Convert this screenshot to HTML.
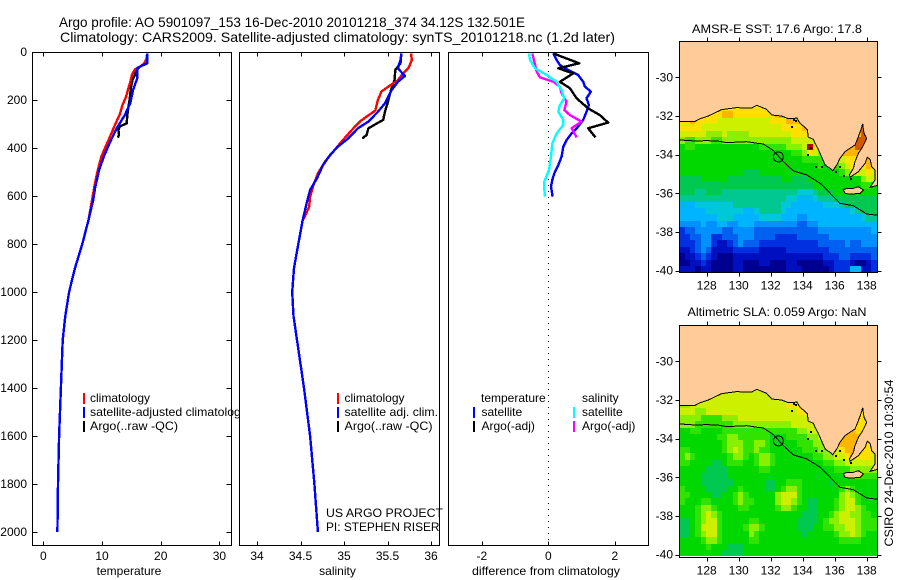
<!DOCTYPE html>
<html>
<head>
<meta charset="utf-8">
<title>Argo profile</title>
<style>
html,body{margin:0;padding:0;background:#fff;}
svg{display:block;font-family:"Liberation Sans",sans-serif;font-size:12px;}
</style>
</head>
<body>
<svg id="fig" xmlns="http://www.w3.org/2000/svg" width="900" height="580" viewBox="0 0 900 580">
<rect x="0" y="0" width="900" height="580" fill="#fff"/>
<text x="59" y="27" font-size="14" textLength="466" lengthAdjust="spacingAndGlyphs">Argo profile: AO 5901097_153 16-Dec-2010 20101218_374 34.12S 132.501E</text>
<text x="60" y="42" font-size="14" textLength="555" lengthAdjust="spacingAndGlyphs">Climatology: CARS2009. Satellite-adjusted climatology: synTS_20101218.nc (1.2d later)</text>
<g id="panels"></g>
<g id="maps"></g>
<text x="777" y="33" text-anchor="middle" textLength="170" lengthAdjust="spacingAndGlyphs">AMSR-E SST: 17.6 Argo: 17.8</text>
<text x="777" y="316" text-anchor="middle" textLength="179" lengthAdjust="spacingAndGlyphs">Altimetric SLA: 0.059 Argo: NaN</text>
<text transform="translate(893,463) rotate(-90)" text-anchor="middle" textLength="167" lengthAdjust="spacingAndGlyphs">CSIRO 24-Dec-2010 10:30:54</text>
</svg>
<script>
// ---------- Profile data ----------
const depthTicks = [0,200,400,600,800,1000,1200,1400,1600,1800,2000];
const tempTicks = [0,10,20,30];
const salTicks = [34,34.5,35,35.5,36];
const diffTicks = [-2,0,2];

const deepDepth = [700,800,900,1000,1100,1200,1300,1400,1600,1800,2000];
const deepTemp = [7.7,6.65,5.4,4.4,3.75,3.3,3.15,3.0,2.7,2.5,2.4];
const deepSal = [34.525,34.475,34.425,34.405,34.42,34.46,34.50,34.54,34.61,34.66,34.70];

const tempClimDepth = [6,26,47,61,72,96,117,151,186,221,262,304,339,367,401,436,471,512,547,603];
const tempClim = [17.7,17.6,17.2,16.5,15.6,15.1,14.9,14.5,14.1,13.5,13,12.2,11.6,11.1,10.5,9.9,9.5,9.1,8.8,8.4];
const tempSatDepth = [6,47,54,68,110,158,214,262,318,374,436,492,568,617];
const tempSat = [17.7,17.7,17.0,16.0,16.0,15.3,14.8,13.9,12.5,11.4,10.3,9.5,8.8,8.5];
const tempArgoDepth = [6,47,61,75,96,117,151,200,228,269,297,311,325,346,357];
const tempArgo = [17.7,17.7,16.5,15.9,15.6,15.2,14.9,14.7,14.5,14.3,14.2,13.0,12.8,12.9,12.7];

const salClimDepth = [6,33,68,89,117,144,165,200,244,269,290,325,374,422,457,506,554,603,644,686];
const salClim = [35.77,35.78,35.74,35.68,35.62,35.51,35.43,35.39,35.36,35.26,35.18,35.09,34.97,34.86,34.78,34.70,34.65,34.61,34.60,34.55];
const salSatDepth = [6,33,68,100,124,158,214,249,290,318,360,394,429,471,526,575,631,693];
const salSat = [35.66,35.65,35.62,35.70,35.62,35.55,35.47,35.39,35.28,35.16,35.05,34.93,34.84,34.76,34.69,34.61,34.57,34.53];
const salArgoDepth = [6,47,75,117,158,214,249,283,297,318,346,360];
const salArgo = [35.66,35.65,35.59,35.58,35.54,35.50,35.47,35.45,35.38,35.28,35.26,35.21];

const diffTSatDepth = [6,33,54,75,96,124,144,165,193,221,249,283,311,339,367,394,436,471,499,533,561,603];
const diffTSat = [0.15,0.25,0.35,0.6,0.9,1.05,1.1,1.28,1.15,1.22,1.15,1.05,0.9,0.7,0.55,0.45,0.4,0.3,0.2,0.12,0.08,0.13];
const diffTArgoDepth = [6,19,47,68,89,124,151,193,235,263,294,318,356];
const diffTArgo = [0.15,0.4,0.93,0.3,0.75,0.35,0.65,0.85,1.2,1.55,1.8,1.2,1.42];
const diffSSatDepth = [6,33,68,96,124,158,193,221,249,283,304,339,381,436,492,540,561,603];
const diffSSat = [-0.58,-0.55,-0.40,-0.05,0.25,0.40,0.48,0.35,0.30,0.45,0.45,0.25,0.12,0.08,0.02,-0.12,-0.13,-0.10];
const diffSArgoDepth = [6,40,82,106,124,144,172,207,242,263,290,318,356];
const diffSArgo = [-0.48,-0.42,-0.35,-0.25,0.15,0.35,0.40,0.55,0.48,0.65,1.0,0.70,0.85];

// ---------- Map data ----------
const lonTicks = [128,130,132,134,136,138];
const latTicks = [-30,-32,-34,-36,-38,-40];
const coastLon = [126.29,127.27,127.58,128.10,128.63,128.94,129.88,130.5,130.81,131.13,131.44,131.75,132.06,132.69,133.10,133.38,133.63,133.83,134.15,134.29,134.35,134.67,134.77,134.94,135.13,135.40,135.71,135.88,136.13,136.33,136.65,137.27,137.48,137.63,137.75,137.83,138,137.75,137.48,137.27,137.17,136.92,136.96,137.48,137.90,138.04,138.21,138.31,138.52,138.52,138.21,138.67,138.67,126.29];
const coastLat = [-32.28,-32.28,-32.14,-32.0,-31.79,-31.67,-31.57,-31.60,-31.59,-31.45,-31.55,-31.66,-31.95,-32.0,-32.14,-32.14,-32.10,-32.38,-32.59,-32.72,-33.10,-33.21,-33.41,-33.67,-34.02,-34.53,-34.71,-34.83,-34.53,-34.19,-33.84,-33.5,-33.07,-32.72,-32.41,-32.9,-33.16,-33.59,-33.93,-34.36,-34.71,-35.05,-35.17,-34.88,-34.45,-34.14,-34.24,-34.62,-34.79,-35.31,-35.69,-35.59,-28.14,-28.14];
const islandLon = [136.54,136.75,137.17,137.48,137.79,137.58,136.96,136.65];
const islandLat = [-35.83,-35.74,-35.74,-35.66,-35.83,-36,-36.05,-36];
const contourLon = [126.29,127.17,128,128.63,129.25,130.5,131.13,131.54,132.17,132.79,133.42,134.25,135.08,135.71,136.33,137.17,138,138.67];
const contourLat = [-33.24,-33.29,-33.28,-33.29,-33.38,-33.33,-33.41,-33.45,-33.79,-34.36,-34.84,-35.05,-35.48,-36,-36.52,-36.64,-37.07,-37.14];
const speckLon = [133.27,133.54,133.42,134.25,134.46,134.77,135.13,136.02,136.29,136.54,136.96];
const speckLat = [-32.52,-32.21,-32.14,-33.98,-33.62,-34.59,-34.59,-34.83,-34.59,-35.05,-35.22];
const floatLon = 132.48;
const floatLat = -34.12;

// Colour class per grid cell, one row per 1/3 degree of latitude
const sstGrid = [
[13,13,13,13,13,13,13,13,13,13,13,13,13,13,13,13,13,13,13,13,13,13,13,13,13,13,13,13,13,13,13,13,13,13,13,13,13],
[13,13,13,13,13,13,13,13,14,14,13,13,13,13,13,13,13,13,14,14,14,14,14,14,14,14,14,14,14,14,14,14,14,14,14,14,14],
[13,13,14,13,13,13,13,12,12,12,12,12,12,12,12,12,12,13,13,13,14,14,14,14,14,14,14,14,14,14,14,14,14,14,14,14,14],
[13,13,13,13,12,12,12,12,12,12,12,12,12,12,12,12,12,12,12,13,13,13,13,14,14,14,14,14,14,14,14,14,14,14,15,15,14],
[12,12,12,12,12,11,11,11,12,11,11,11,11,12,12,12,12,12,12,12,12,13,13,13,13,13,13,13,13,13,13,13,13,14,15,15,14],
[11,10,10,11,11,11,10,10,11,11,11,11,11,11,11,11,11,11,11,11,11,12,12,12,12,12,12,12,12,12,13,13,14,15,15,15,14],
[9,10,10,9,9,9,9,9,9,9,9,9,9,9,9,10,10,10,10,10,11,11,11,12,16,13,12,12,12,12,13,14,14,15,15,14,14],
[9,9,9,9,9,9,9,9,9,9,9,9,9,9,9,9,9,9,9,9,9,10,10,11,13,12,11,12,12,13,14,14,14,14,14,14,14],
[9,9,9,9,9,9,9,9,9,9,9,9,9,9,9,9,9,9,9,9,9,9,9,10,10,10,10,10,10,11,12,13,13,13,13,14,14],
[9,9,9,9,9,9,9,9,9,9,9,9,9,9,9,9,9,9,9,9,9,9,9,9,9,9,10,9,10,10,11,12,13,13,13,14,13],
[9,9,9,9,9,9,9,9,9,9,9,9,8,8,8,9,9,9,9,9,9,9,9,9,9,9,9,9,9,9,10,11,12,12,12,13,12],
[8,8,8,8,9,9,9,9,9,8,8,8,8,8,8,8,8,8,8,9,9,8,8,8,9,9,9,9,9,9,9,9,9,9,11,12,12],
[8,8,8,8,8,8,8,8,8,8,8,8,8,8,8,8,8,8,8,8,8,8,8,8,8,9,9,9,9,9,9,9,9,9,10,10,9],
[8,8,8,7,7,8,8,8,7,7,7,7,7,7,7,7,7,7,7,7,7,7,6,6,6,7,8,8,8,9,9,9,9,9,9,9,9],
[7,7,7,7,7,7,7,7,7,7,7,7,7,7,7,7,7,7,7,7,6,6,5,5,5,6,7,7,7,8,8,8,8,8,8,8,8],
[5,5,5,6,6,6,6,6,6,6,7,7,7,7,7,7,7,7,7,6,6,5,5,5,5,5,5,6,6,6,7,8,8,8,8,8,8],
[5,5,5,5,5,6,6,6,6,6,6,6,5,5,6,7,7,7,7,6,5,5,5,5,5,5,5,5,5,5,5,5,6,7,8,8,8],
[5,5,5,5,5,5,5,6,6,6,5,5,5,5,5,6,6,6,6,5,5,5,4,4,5,5,5,5,5,5,5,5,5,5,6,7,7],
[4,4,4,4,5,4,4,5,5,4,4,5,5,5,4,4,4,4,4,4,4,4,3,3,4,4,5,5,5,5,5,5,5,5,5,5,5],
[2,3,3,4,4,4,4,4,3,3,4,4,4,4,3,3,3,3,3,3,3,3,3,3,3,3,4,4,4,4,4,4,4,4,4,4,5],
[2,2,3,3,4,4,2,2,3,3,3,4,4,4,3,3,3,3,2,2,2,2,3,3,3,3,3,3,4,4,4,4,4,4,4,4,4],
[2,2,2,3,4,4,2,1,1,2,3,4,3,3,3,2,2,2,2,2,2,2,2,2,2,2,3,3,3,3,3,4,3,3,4,4,4],
[1,1,2,3,4,3,1,1,1,1,2,2,2,2,2,1,1,1,1,1,2,2,2,2,2,2,2,2,3,3,3,3,3,3,3,3,3],
[0,1,1,2,3,2,1,0,0,0,1,1,1,1,1,1,1,1,1,1,1,1,1,1,1,1,1,2,2,2,3,3,2,2,2,2,3],
[0,0,1,1,2,1,0,0,0,0,1,1,0,0,0,1,1,0,0,0,1,1,0,0,0,0,0,1,1,2,2,2,1,0,0,1,2],
[1,1,1,0,1,1,0,0,0,0,1,1,0,0,0,0,0,0,0,0,1,1,1,0,0,0,0,0,1,2,2,2,5,5,1,1,2]
];
const slaGrid = [
[12,12,12,12,12,12,12,12,12,12,12,12,12,12,12,12,12,12,12,12,12,12,12,12,12,12,12,12,12,12,12,12,12,12,12,12,12],
[12,12,12,12,12,12,12,12,12,12,12,12,12,12,12,12,12,12,12,12,13,13,13,13,13,13,13,13,13,13,13,13,13,13,13,13,13],
[11,11,12,12,12,12,12,12,12,12,12,12,12,12,12,12,12,12,12,12,13,13,13,13,13,13,13,13,13,13,13,13,13,13,13,13,13],
[12,12,12,11,11,12,12,12,12,12,12,12,12,12,12,12,12,12,12,12,12,12,13,13,13,13,13,13,13,13,13,13,13,13,13,13,13],
[11,11,11,11,10,10,10,10,11,11,11,12,12,12,12,12,12,12,12,12,12,12,12,12,13,13,13,13,13,13,13,13,13,13,13,13,13],
[11,11,11,10,10,10,10,10,10,10,11,11,11,11,11,11,11,11,11,11,11,12,12,12,12,12,12,13,13,13,13,13,13,13,13,13,13],
[9,9,10,10,9,9,9,9,10,10,10,10,10,10,10,10,10,10,10,10,10,10,11,11,12,12,12,12,12,13,13,14,14,13,13,13,13],
[9,9,9,9,9,9,9,10,10,11,11,10,10,10,10,10,10,9,9,9,10,10,10,10,11,11,12,12,12,13,14,14,14,14,13,13,13],
[9,9,9,9,9,9,9,9,10,11,11,11,10,10,11,11,10,9,9,9,9,9,10,10,10,11,11,12,12,13,14,14,14,14,14,13,13],
[10,10,9,9,9,9,9,9,10,11,12,11,10,10,11,10,10,9,9,9,9,9,9,10,10,10,11,11,12,12,13,14,14,14,13,13,13],
[10,11,10,9,9,9,9,9,9,10,11,11,10,9,10,11,11,10,9,9,9,9,9,9,9,10,10,11,11,12,12,13,14,13,13,13,12],
[10,10,9,9,9,9,8,8,9,10,10,10,9,9,10,11,11,10,9,9,9,9,9,9,9,9,9,10,10,11,11,12,12,12,12,12,12],
[9,9,9,9,9,8,8,8,8,9,9,9,9,9,9,10,10,9,9,9,9,9,9,9,9,9,9,9,9,10,10,10,11,11,11,11,11],
[9,9,9,9,8,8,8,8,8,9,9,9,9,9,9,9,9,9,9,9,9,9,9,9,9,9,9,9,9,9,9,9,10,10,10,10,10],
[9,9,9,9,8,8,8,8,8,8,9,9,9,9,9,9,8,8,9,9,10,10,10,9,9,9,9,9,8,9,9,9,9,9,9,9,9],
[10,9,9,9,9,8,8,8,8,9,9,10,9,9,9,9,8,8,9,10,11,11,10,9,9,9,9,9,9,9,10,11,10,9,9,9,9],
[10,10,9,9,9,9,8,8,9,9,10,11,10,9,9,9,9,9,11,12,12,12,10,9,9,9,9,9,9,9,11,12,11,10,9,9,9],
[10,9,9,9,10,10,9,9,9,9,10,11,10,10,9,9,9,9,11,12,12,11,10,9,8,8,9,9,9,10,11,12,12,10,9,9,9],
[9,9,9,10,11,11,10,9,9,9,9,10,10,9,9,9,9,9,10,11,11,10,9,9,8,8,9,9,9,10,11,12,12,11,10,9,9],
[9,9,9,10,11,12,11,10,9,9,9,9,9,9,9,9,9,9,9,9,9,9,9,8,8,8,9,9,10,11,12,12,11,11,10,10,9],
[8,8,9,10,11,12,12,10,9,9,9,9,9,10,10,9,9,9,9,9,9,9,8,8,8,8,9,10,11,11,12,12,12,11,10,10,10],
[8,8,9,10,12,12,12,10,9,9,9,9,10,11,11,10,9,9,9,9,9,9,8,8,8,9,9,10,10,11,11,12,12,11,10,10,10],
[8,8,9,10,11,12,12,10,9,9,9,9,9,11,10,9,9,9,9,9,9,9,9,8,9,9,9,9,9,10,11,11,12,11,10,9,9],
[9,9,9,9,10,11,11,10,9,9,9,9,9,10,10,9,9,9,9,9,9,9,9,9,9,9,9,9,9,9,10,10,10,10,9,9,9],
[9,9,9,9,9,10,9,9,9,8,8,8,9,9,9,9,9,9,9,9,9,9,9,9,9,9,9,9,9,9,9,9,9,9,9,9,9],
[9,9,9,9,9,9,9,9,8,8,8,8,9,9,9,9,9,9,9,9,9,9,9,9,9,9,9,9,9,9,9,9,9,9,9,9,9]
];
const colourClasses = ['#000090','#0010c0','#0030e0','#0060f0','#0090ff','#00b4ff','#00c8d8','#00c890','#00c850','#00d800','#30e400','#88f000','#ccf000','#ffe000','#ffb400','#d45800','#b80000'];

// ---------- Drawing ----------
const NS = 'http://www.w3.org/2000/svg';
const panelsEl = document.getElementById('panels');
const mapsEl = document.getElementById('maps');

function make(parent, tag, attrs, text) {
  const el = document.createElementNS(NS, tag);
  for (const k in attrs) el.setAttribute(k, attrs[k]);
  if (text !== undefined) el.textContent = text;
  parent.appendChild(el);
  return el;
}

const depthScale = d => 52 + d * 0.24;
const tempScale = v => 43.3 + v * 5.87;
const salScale = v => 257 + (v - 34) * 87;
const diffScale = v => 548.3 + v * 33.25;

function drawFrame(left, right, xScale, xTicks, showDepth, key) {
  const top = 52.5, bottom = 545.5;
  const bg = make(panelsEl, 'rect', {x: left, y: top, width: right - left, height: bottom - top, fill: '#fff'});
  
  
  const frame = make(panelsEl, 'path', {d: `M${left} ${top}H${right}V${bottom}H${left}Z`, fill: 'none', stroke: '#000', 'stroke-width': 1, 'shape-rendering': 'crispEdges'});
  
  
  xTicks.forEach(t => {
    const x = Math.round(xScale(t)) + 0.5;
    const tick = make(panelsEl, 'path', {d: `M${x} ${top}v4M${x} ${bottom}v-4`, stroke: '#000', 'stroke-width': 1, fill: 'none', 'shape-rendering': 'crispEdges'});
    
    
    const label = make(panelsEl, 'text', {x: xScale(t), y: 560, 'text-anchor': 'middle'}, String(t));
    
    
  });
  if (showDepth) {
    depthTicks.forEach(t => {
      const y = Math.round(depthScale(t)) + 0.5;
      const tick = make(panelsEl, 'path', {d: `M${left} ${y}h5M${right} ${y}h-5`, stroke: '#000', 'stroke-width': 1, fill: 'none', 'shape-rendering': 'crispEdges'});
      
      
      const label = make(panelsEl, 'text', {x: 27, y: depthScale(t) + 4, 'text-anchor': 'end'}, String(t));
      
      
    });
  }
}

function drawLine(xScale, depths, values, color, key) {
  const pts = depths.map((d, i) => xScale(values[i]).toFixed(1) + ',' + depthScale(d).toFixed(1)).join(' ');
  const line = make(panelsEl, 'polyline', {points: pts, fill: 'none', stroke: color, 'stroke-width': 2.4, 'stroke-linejoin': 'round', 'shape-rendering': 'crispEdges'});
  
  
}

function drawLegend(markerX, textX, y, color, label, key, width) {
  if (color) {
    const mark = make(panelsEl, 'rect', {x: markerX, y: y - 5, width: 2, height: 11, fill: color, 'shape-rendering': 'crispEdges'});
    
    
  }
  const text = make(panelsEl, 'text', {x: textX, y: y + 4}, label);
  if (width) {
    text.setAttribute('textLength', width);
    text.setAttribute('lengthAdjust', 'spacingAndGlyphs');
  }
  
  
}

function drawNote(x, y, label, anchor, key, width) {
  const text = make(panelsEl, 'text', {x: x, y: y, 'text-anchor': anchor}, label);
  if (width) {
    text.setAttribute('textLength', width);
    text.setAttribute('lengthAdjust', 'spacingAndGlyphs');
  }
  
  
}

// Temperature panel
drawFrame(32.5, 231.5, tempScale, tempTicks, true, 'temperature');
drawLine(tempScale, tempArgoDepth, tempArgo, '#000', 'temperature-argo-line');
drawLine(tempScale, tempClimDepth.concat(deepDepth), tempClim.concat(deepTemp), '#f00', 'temperature-climatology-line');
drawLine(tempScale, tempSatDepth.concat(deepDepth), tempSat.concat(deepTemp), '#00f', 'temperature-satellite-line');
drawLegend(83, 90, 398, '#f00', 'climatology', 'temperature-climatology');
drawLegend(83, 90, 412, '#00f', 'satellite-adjusted climatology', 'temperature-satellite', 157);
drawLegend(83, 90, 426, '#000', 'Argo(..raw -QC)', 'temperature-argo', 88);
drawNote(129, 575, 'temperature', 'middle', 'temperature-axis-title');

// Salinity panel
drawFrame(239.5, 439.5, salScale, salTicks, false, 'salinity');
drawLine(salScale, salArgoDepth, salArgo, '#000', 'salinity-argo-line');
drawLine(salScale, salClimDepth.concat(deepDepth), salClim.concat(deepSal), '#f00', 'salinity-climatology-line');
drawLine(salScale, salSatDepth.concat(deepDepth), salSat.concat(deepSal), '#00f', 'salinity-satellite-line');
drawLegend(337, 344.5, 398, '#f00', 'climatology', 'salinity-climatology');
drawLegend(337, 344.5, 412, '#00f', 'satellite adj. clim.', 'salinity-satellite', 93.5);
drawLegend(337, 344.5, 426, '#000', 'Argo(..raw -QC)', 'salinity-argo', 88);
drawNote(326, 517, 'US ARGO PROJECT', 'start', 'project-label', 117);
drawNote(326, 531, 'PI: STEPHEN RISER', 'start', 'investigator-label', 113.5);
drawNote(337.5, 575, 'salinity', 'middle', 'salinity-axis-title');

// Difference panel
drawFrame(448.5, 648.5, diffScale, diffTicks, false, 'difference');
const zeroLine = make(panelsEl, 'line', {x1: 548.5, x2: 548.5, y1: 53, y2: 545, stroke: '#000', 'stroke-width': 1, 'stroke-dasharray': '1 5', 'shape-rendering': 'crispEdges'});


drawLine(diffScale, diffTSatDepth, diffTSat, '#00f', 'difference-temperature-satellite-line');
drawLine(diffScale, diffTArgoDepth, diffTArgo, '#000', 'difference-temperature-argo-line');
drawLine(diffScale, diffSArgoDepth, diffSArgo, '#f0f', 'difference-salinity-argo-line');
drawLine(diffScale, diffSSatDepth, diffSSat, '#0ff', 'difference-salinity-satellite-line');
drawLegend(0, 481, 398, null, 'temperature', 'difference-temperature-heading');
drawLegend(473, 481.5, 412, '#00f', 'satellite', 'difference-temperature-satellite');
drawLegend(473, 481.5, 426, '#000', 'Argo(-adj)', 'difference-temperature-argo');
drawLegend(0, 582, 398, null, 'salinity', 'difference-salinity-heading');
drawLegend(573, 582, 412, '#0ff', 'satellite', 'difference-salinity-satellite');
drawLegend(573, 582, 426, '#f0f', 'Argo(-adj)', 'difference-salinity-argo');
drawNote(546, 575, 'difference from climatology', 'middle', 'difference-axis-title', 148);

// Maps
const lonScale = lon => 706.7 + (lon - 128) * 16;
function drawMap(grid, y30, top, bottom, key) {
  const latScale = lat => y30 + (-30 - lat) * 19.33;
  const left = 679.5, right = 877.5;
  const clipId = key + '-clip';
  const defs = make(mapsEl, 'clipPath', {id: clipId});
  make(defs, 'rect', {x: left, y: top, width: right - left, height: bottom - top});
  const body = make(mapsEl, 'g', {'clip-path': `url(#${clipId})`});
  
  
  grid.forEach((row, j) => {
    row.forEach((level, i) => {
      const lon = 126.29 + i / 3;
      const lat = -31.43 - j / 3;
      const x0 = Math.round(lonScale(lon)), x1 = Math.round(lonScale(lon + 1 / 3));
      const y0 = Math.round(latScale(lat)), y1 = Math.round(latScale(lat - 1 / 3));
      const cell = make(body, 'rect', {x: x0, y: y0, width: x1 - x0 + (i === row.length - 1 ? 3 : 0), height: y1 - y0, fill: colourClasses[level], 'shape-rendering': 'crispEdges'});
      
      
    });
  });
  const coastPts = coastLon.map((lon, i) => lonScale(lon).toFixed(1) + ',' + latScale(coastLat[i]).toFixed(1)).join(' ');
  const land = make(body, 'polygon', {points: coastPts, fill: '#ffcc99', stroke: '#000', 'stroke-width': 1, 'shape-rendering': 'crispEdges'});
  
  
  const islandPts = islandLon.map((lon, i) => lonScale(lon).toFixed(1) + ',' + latScale(islandLat[i]).toFixed(1)).join(' ');
  const island = make(body, 'polygon', {points: islandPts, fill: '#ffcc99', stroke: '#000', 'stroke-width': 1, 'shape-rendering': 'crispEdges'});
  
  
  speckLon.forEach((lon, i) => {
    const speck = make(body, 'rect', {x: Math.round(lonScale(lon)), y: Math.round(latScale(speckLat[i])), width: 2, height: 2, fill: '#000', 'shape-rendering': 'crispEdges'});
    
    
  });
  const contourPts = contourLon.map((lon, i) => lonScale(lon).toFixed(1) + ',' + latScale(contourLat[i]).toFixed(1)).join(' ');
  const contour = make(body, 'polyline', {points: contourPts, fill: 'none', stroke: '#000', 'stroke-width': 1, 'shape-rendering': 'crispEdges'});
  
  
  const marker = make(body, 'circle', {cx: lonScale(floatLon), cy: latScale(floatLat), r: 5, fill: 'none', stroke: '#000', 'stroke-width': 1, 'shape-rendering': 'crispEdges'});
  
  
  const frame = make(mapsEl, 'path', {d: `M${left} ${top}H${right}V${bottom}H${left}Z`, fill: 'none', stroke: '#000', 'stroke-width': 1, 'shape-rendering': 'crispEdges'});
  
  
  lonTicks.forEach(t => {
    const x = Math.round(lonScale(t)) + 0.5;
    const tick = make(mapsEl, 'path', {d: `M${x} ${top}v-4M${x} ${bottom}v4`, stroke: '#000', 'stroke-width': 1, fill: 'none', 'shape-rendering': 'crispEdges'});
    
    
    const label = make(mapsEl, 'text', {x: lonScale(t), y: bottom + 17, 'text-anchor': 'middle'}, String(t));
    
    
  });
  latTicks.forEach(t => {
    const y = Math.round(latScale(t)) + 0.5;
    const tick = make(mapsEl, 'path', {d: `M${left} ${y}h-4M${right} ${y}h4`, stroke: '#000', 'stroke-width': 1, fill: 'none', 'shape-rendering': 'crispEdges'});
    
    
    const label = make(mapsEl, 'text', {x: 673, y: latScale(t) + 4, 'text-anchor': 'end'}, String(t));
    
    
  });
}
drawMap(sstGrid, 77.3, 41.5, 272.5, 'sst-map');
drawMap(slaGrid, 361.3, 325.5, 557.5, 'sla-map');
</script>
</body>
</html>
